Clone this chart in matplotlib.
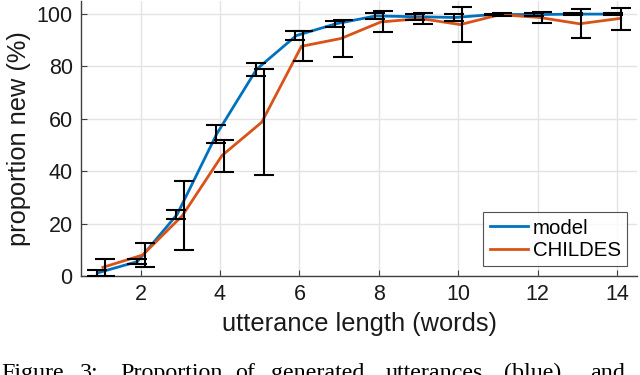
import matplotlib
matplotlib.use("Agg")
import matplotlib.pyplot as plt
import numpy as np

lengths = [1, 2, 3, 4, 5, 6, 7, 8, 9, 10, 11, 12, 13, 14]
model = [1.2, 5.5, 23.5, 54.3, 78.9, 91.8, 96.3, 99.3, 99.0, 98.7, 99.9, 99.8, 100.0, 100.0]
model_err = [1.2, 1.0, 1.8, 3.5, 2.6, 1.6, 1.2, 1.2, 1.2, 1.5, 0.3, 0.6, 0.3, 0.3]
childes = [3.3, 8.0, 23.0, 46.0, 58.7, 87.7, 90.7, 97.0, 98.3, 96.0, 99.8, 98.7, 96.3, 98.3]
childes_err = [3.2, 4.7, 13.2, 6.1, 20.2, 5.7, 7.0, 4.0, 2.0, 6.6, 0.5, 2.0, 5.6, 4.2]
xticks = [2, 4, 6, 8, 10, 12, 14]
yticks = [0, 20, 40, 60, 80, 100]
caption_words = ["Figure", "3:", "Proportion", "of", "generated", "utterances", "(blue)", "and"]
caption_x = [1, 80, 120, 235, 271, 386, 504, 590]

BLUE = "#0072BD"
ORANGE = "#D95319"

plt.rcParams['font.family'] = ['Liberation Sans', 'DejaVu Sans']

fig = plt.figure(figsize=(6.4, 3.75), dpi=100)
ax = fig.add_axes([81/640, 1-276/375, (637-81)/640, (276-1)/375])

x = np.array(lengths, dtype=float)
ax.plot(x - 0.08, model, color=BLUE, lw=2, label="model", zorder=3)
ax.plot(x + 0.05, childes, color=ORANGE, lw=2, label="CHILDES", zorder=3)
ax.errorbar(x - 0.1, model, yerr=model_err, fmt='none', ecolor='black',
            elinewidth=1.5, capsize=7, capthick=1.5, zorder=4)
ax.errorbar(x + 0.1, childes, yerr=childes_err, fmt='none', ecolor='black',
            elinewidth=1.5, capsize=7, capthick=1.5, zorder=4)

ax.set_xlim(0.5, 14.5)
ax.set_ylim(0, 105)
ax.set_xticks(xticks)
ax.set_yticks(yticks)
ax.grid(True, color='#e3e3e3', lw=1)
ax.set_axisbelow(True)
for s in ['top', 'right']:
    ax.spines[s].set_visible(False)
for s in ['left', 'bottom']:
    ax.spines[s].set_color('#404040')
    ax.spines[s].set_linewidth(1)
ax.tick_params(direction='in', length=4, color='#404040', labelsize=15.5,
               labelcolor='#1a1a1a', pad=6)
ax.set_xlabel("utterance length (words)", fontsize=18.3, color='#1a1a1a', labelpad=5)
ax.set_ylabel("proportion new (%)", fontsize=18.3, color='#1a1a1a', labelpad=4)

leg = ax.legend(loc='lower right', fontsize=14.7, frameon=True, fancybox=False,
                edgecolor='#262626', handlelength=1.86, borderpad=0.3,
                labelspacing=0.15, handletextpad=0.25, borderaxespad=0.5)
leg.get_frame().set_linewidth(0.8)

for w, xp in zip(caption_words, caption_x):
    fig.text(xp/640, -4/375, w, fontsize=17.3, family=['Liberation Serif', 'DejaVu Serif'],
             ha='left', va='baseline', color='black')

fig.savefig("out.png", dpi=100)
